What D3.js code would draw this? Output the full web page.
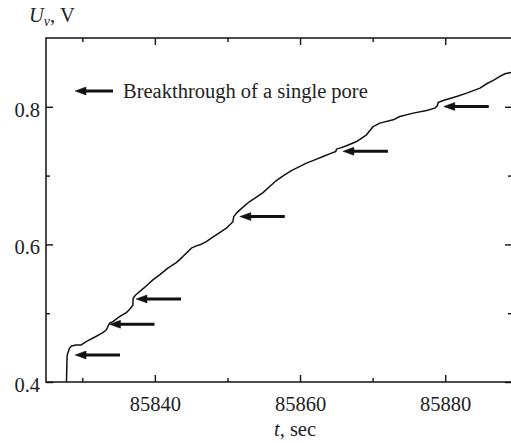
<!DOCTYPE html>
<html>
<head>
<meta charset="utf-8">
<script src="https://cdn.jsdelivr.net/npm/d3@7"></script>
<style>
  body { margin: 0; background: #fff; }
  svg { display: block; font-family: "Liberation Serif", "Times New Roman", serif; }
</style>
</head>
<body>
<div id="chart"></div>
<script>
// time (sec) and voltage samples
var times = [85827.82, 85827.89, 85827.92, 85828.23, 85828.51, 85829.16, 85829.85, 85830.54,
  85831.68, 85832.83, 85833.30, 85833.75, 85834.21, 85835.13, 85836.06, 85836.65, 85836.97,
  85837.00, 85837.34, 85837.89, 85838.81, 85839.72, 85840.65, 85841.79, 85842.95, 85843.86,
  85844.55, 85845.02, 85845.71, 85846.40, 85847.09, 85847.78, 85848.92, 85849.85, 85850.54,
  85850.76, 85850.86, 85851.23, 85852.14, 85853.06, 85853.99, 85854.90, 85855.82, 85856.74,
  85857.66, 85858.81, 85859.50, 85860.88, 85862.03, 85863.17, 85864.33, 85864.92, 85865.02,
  85865.48, 85866.40, 85867.78, 85869.16, 85870.07, 85870.99, 85872.83, 85873.75, 85875.59,
  85877.43, 85878.58, 85878.90, 85879.03, 85879.72, 85881.57, 85882.95, 85884.79, 85885.71,
  85886.62, 85887.54, 85888.23, 85889.06];
var volts = [0.400, 0.432, 0.4393, 0.449, 0.4524, 0.4538, 0.4538, 0.4586,
  0.4650, 0.4717, 0.4756, 0.4854, 0.4877, 0.4950, 0.5008, 0.5072, 0.5120,
  0.5217, 0.5265, 0.5313, 0.5396, 0.5484, 0.5556, 0.5654, 0.5735, 0.5823,
  0.5895, 0.5945, 0.5978, 0.6003, 0.6041, 0.6090, 0.6172, 0.6236, 0.6308,
  0.6332, 0.6404, 0.6454, 0.6541, 0.6623, 0.6687, 0.6753, 0.6841, 0.6928,
  0.6996, 0.7073, 0.7108, 0.7181, 0.7229, 0.7277, 0.7327, 0.7350, 0.7385,
  0.7399, 0.7433, 0.7495, 0.7593, 0.7713, 0.7763, 0.7811, 0.7859, 0.7908,
  0.7946, 0.7981, 0.8015, 0.8063, 0.8092, 0.8150, 0.8199, 0.8272, 0.8335,
  0.8383, 0.8441, 0.8480, 0.8499];

// pore breakthrough events (arrow tips)
var eventTimes = [85829.0, 85833.75, 85837.4, 85851.7, 85865.9, 85879.8];
var eventVolts = [0.4393, 0.4839, 0.5207, 0.6404, 0.7353, 0.8004];

var xMajor = [85840, 85860, 85880];
var xMinor = [85830, 85850, 85870];
var yMajor = [0.4, 0.6, 0.8];
var yMinor = [0.5, 0.7];

var width = 511, height = 443;
var margin = {top: 38, right: -1, bottom: 61, left: 46};

var svg = d3.select('#chart')
    .append('svg')
    .attr('width', width)
    .attr('height', height);

var x = d3.scaleLinear()
    .domain([85825, 85889.2])
    .range([margin.left, width - margin.right]);
var y = d3.scaleLinear()
    .domain([0.4, 0.9])
    .range([height - margin.bottom, margin.top]);

function drawAxis(axis, transform) {
  var g = svg.append('g')
      .attr('transform', transform)
      .call(axis);
  g.select('.domain').remove();
  g.selectAll('line').attr('stroke', '#111').attr('stroke-width', 1.4);
  return g;
}

// minor ticks
drawAxis(d3.axisBottom(x).tickValues(xMinor).tickSize(-4).tickFormat(''),
  'translate(0,' + y(0.4) + ')');
drawAxis(d3.axisTop(x).tickValues(xMinor).tickSize(-4).tickFormat(''),
  'translate(0,' + y(0.9) + ')');
drawAxis(d3.axisLeft(y).tickValues(yMinor).tickSize(-4).tickFormat(''),
  'translate(' + x.range()[0] + ',0)');
drawAxis(d3.axisRight(y).tickValues(yMinor).tickSize(-4).tickFormat(''),
  'translate(' + x.range()[1] + ',0)');

// major ticks
var bottom = drawAxis(d3.axisBottom(x).tickValues(xMajor).tickSizeInner(-7).tickPadding(20)
    .tickFormat(d3.format('d')), 'translate(0,' + y(0.4) + ')');
bottom.selectAll('text')
    .attr('fill', '#222')
    .style('font-size', '20.5px')
    .style('font-family', '"Liberation Serif", serif')
    .attr('y', 0)
    .attr('dy', 29);
drawAxis(d3.axisTop(x).tickValues(xMajor).tickSize(-7).tickFormat(''),
  'translate(0,' + y(0.9) + ')');

var left = drawAxis(d3.axisLeft(y).tickValues(yMajor).tickSizeInner(-7)
    .tickFormat(d3.format('.1f')), 'translate(' + x.range()[0] + ',0)');
left.selectAll('text')
    .attr('fill', '#222')
    .attr('x', -6)
    .attr('dy', 9.5)
    .style('font-size', '20.5px')
    .style('font-family', '"Liberation Serif", serif');
drawAxis(d3.axisRight(y).tickValues(yMajor).tickSize(-7).tickFormat(''),
  'translate(' + x.range()[1] + ',0)');

// frame
svg.append('rect')
    .attr('x', x.range()[0])
    .attr('y', y(0.9))
    .attr('width', x.range()[1] - x.range()[0])
    .attr('height', y(0.4) - y(0.9))
    .attr('fill', 'none')
    .attr('stroke', '#111')
    .attr('stroke-width', 1.5);

// trace
var points = times.map(function(t, i) { return [t, volts[i]]; });
var line = d3.line()
    .x(function(d) { return x(d[0]); })
    .y(function(d) { return y(d[1]); });

svg.append('path')
    .datum(points)
    .attr('d', line)
    .attr('fill', 'none')
    .attr('stroke', '#111')
    .attr('stroke-width', 1.5)
    .attr('stroke-linejoin', 'round');

// left-pointing arrow, tip at (px, py)
function arrow(px, py, len) {
  var g = svg.append('g').attr('fill', '#111').attr('stroke', '#111');
  g.append('line')
      .attr('x1', px + 8).attr('y1', py)
      .attr('x2', px + len).attr('y2', py)
      .attr('stroke-width', 3);
  g.append('path')
      .attr('d', 'M' + px + ',' + py + 'L' + (px + 11) + ',' + (py - 4) +
                 'L' + (px + 11) + ',' + (py + 4) + 'Z')
      .attr('stroke-width', 0.5);
}

eventTimes.forEach(function(t, i) {
  arrow(x(t), y(eventVolts[i]), 45);
});

// legend
arrow(75, 91, 38);
svg.append('text')
    .attr('x', 123)
    .attr('y', 98)
    .attr('fill', '#222')
    .style('font-size', '20.5px')
    .text('Breakthrough of a single pore');

// axis titles
var yTitle = svg.append('text')
    .attr('x', 29)
    .attr('y', 22)
    .attr('fill', '#222')
    .style('font-size', '20.5px');
yTitle.append('tspan').style('font-style', 'italic').text('U');
yTitle.append('tspan').style('font-style', 'italic').style('font-size', '14px')
    .attr('dy', 4).text('v');
yTitle.append('tspan').attr('dy', -4).text(', V');

var xTitle = svg.append('text')
    .attr('x', 295)
    .attr('y', 436)
    .attr('text-anchor', 'middle')
    .attr('fill', '#222')
    .style('font-size', '20.5px');
xTitle.append('tspan').style('font-style', 'italic').text('t');
xTitle.append('tspan').text(', sec');
</script>
</body>
</html>
